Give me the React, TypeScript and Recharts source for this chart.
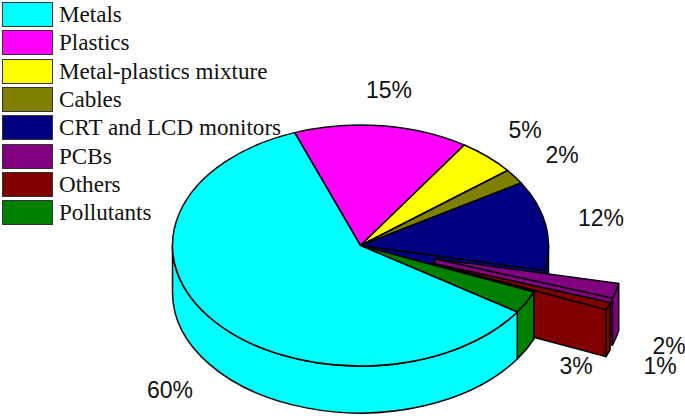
import { PieChart, Pie, Legend } from "recharts";

const categories = ["Metals", "Plastics", "Metal-plastics mixture", "Cables", "CRT and LCD monitors", "PCBs", "Others", "Pollutants"];
const shares = [60, 15, 5, 2, 12, 2, 1, 3];
const colors = ["#00ffff", "#ff00ff", "#ffff00", "#808000", "#000080", "#800080", "#800000", "#008000"];
const pulledOut = ["PCBs", "Others"];
// the slice whose cut face shows in the gap left by the pulled-out slices
const cutFace = "CRT and LCD monitors";

// Metals goes last so it paints over the pulled-out slices
const drawOrder = [1, 2, 3, 4, 5, 6, 7, 0];
const pieData = drawOrder.map((i) => ({ name: categories[i], value: shares[i], fill: colors[i] }));

// hand placed label centres, same order as categories
const labelCentres = [
  [170, 390], [389, 90], [525, 130], [562, 155], [601, 218], [669, 346], [660, 366], [576, 366],
];

const SQUASH = 120.5 / 188;
const DEPTH = 47;
const EXPLODE = 0.41;
const rad = (a: number) => (a * Math.PI) / 180;

function Slice3D(props: any) {
  const { cx, cy, outerRadius: rx, startAngle, endAngle, fill, name } = props;
  const ry = rx * SQUASH;
  const mid = rad((startAngle + endAngle) / 2);
  const isOut = pulledOut.includes(name);
  const ox = cx + (isOut ? EXPLODE * rx * Math.cos(mid) : 0);
  const oy = cy - (isOut ? EXPLODE * ry * Math.sin(mid) : 0);
  const px = (a: number) => ox + rx * Math.cos(rad(a));
  const py = (a: number) => oy - ry * Math.sin(rad(a));
  const large = Math.abs(startAngle - endAngle) > 180 ? 1 : 0;

  const top = `M${ox},${oy} L${px(startAngle)},${py(startAngle)} A${rx},${ry} 0 ${large} 1 ${px(endAngle)},${py(endAngle)} Z`;

  // rim only shows on the front half of the disc
  const hi = Math.min(startAngle, 0);
  const lo = Math.max(endAngle, -180);
  const rim =
    hi > lo
      ? `M${px(hi)},${py(hi)} A${rx},${ry} 0 0 1 ${px(lo)},${py(lo)} L${px(lo)},${py(lo) + DEPTH} A${rx},${ry} 0 0 0 ${px(hi)},${py(hi) + DEPTH} Z`
      : null;

  const wall = `M${ox},${oy} L${px(endAngle)},${py(endAngle)} L${px(endAngle)},${py(endAngle) + DEPTH} L${ox},${oy + DEPTH} Z`;

  const line = { stroke: "#000", strokeWidth: 1.5, strokeLinejoin: "round" as const };
  return (
    <g>
      {(isOut || name === cutFace) && <path d={wall} fill={fill} {...line} />}
      {rim && <path d={rim} fill={fill} {...line} />}
      <path d={top} fill={fill} {...line} />
    </g>
  );
}

function PercentLabel(props: any) {
  const i = categories.indexOf(props.name);
  return (
    <text
      x={labelCentres[i][0]}
      y={labelCentres[i][1]}
      textAnchor="middle"
      dominantBaseline="central"
      fontFamily="Liberation Sans"
      fontSize={23}
      fill="#111"
    >
      {shares[i]}%
    </text>
  );
}

function LegendBox() {
  return (
    <div style={{ fontFamily: "Liberation Serif", fontSize: 23.1, color: "#111" }}>
      {categories.map((name, i) => (
        <div key={name} style={{ position: "absolute", left: 0, top: 0.5 + 28.3 * i, height: 28, display: "flex", alignItems: "center", whiteSpace: "nowrap" }}>
          <div style={{ width: 49, height: 23, marginLeft: 2, background: colors[i], border: "1.5px solid #333" }} />
          <span style={{ marginLeft: 6 }}>{name}</span>
        </div>
      ))}
    </div>
  );
}

export default function App() {
  return (
    <div style={{ position: "absolute", left: 0, top: 0, width: 685, height: 416 }}>
      <PieChart width={685} height={416} margin={{ top: 0, right: 0, bottom: 0, left: 0 }}>
        <Legend content={LegendBox} layout="vertical" align="left" verticalAlign="top" wrapperStyle={{ left: 0, top: 0 }} />
        <Pie
          data={pieData}
          dataKey="value"
          nameKey="name"
          cx={360.5}
          cy={245.5}
          innerRadius={0}
          outerRadius={188}
          startAngle={110.5}
          endAngle={-249.5}
          paddingAngle={0}
          shape={Slice3D}
          label={PercentLabel}
          labelLine={false}
          isAnimationActive={false}
        />
      </PieChart>
    </div>
  );
}
